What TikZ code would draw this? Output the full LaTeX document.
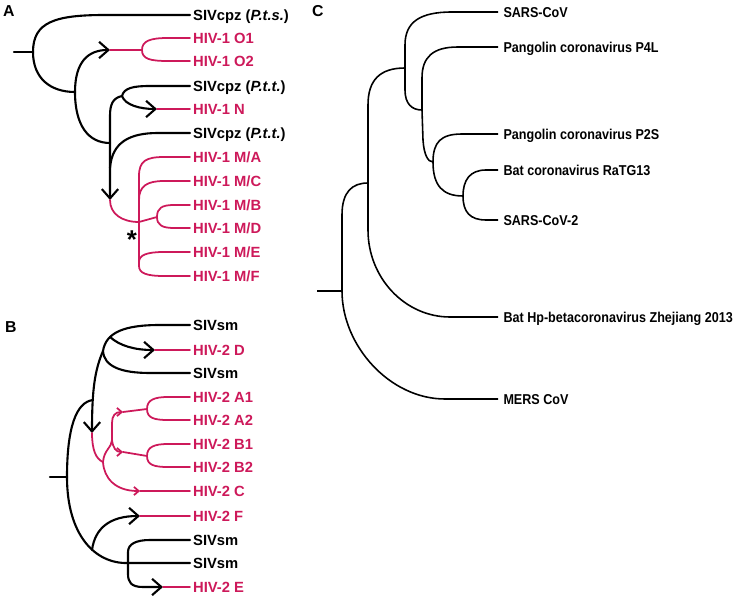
\documentclass[tikz,border=0pt]{standalone}
\usepackage{fontspec}
\setmainfont{Liberation Sans}
\newfontfamily\narrowsans[FakeStretch=0.88]{Liberation Sans}
\usetikzlibrary{arrows.meta}
\usetikzlibrary{positioning}
\definecolor{hivred}{RGB}{205,25,90}
\tikzset{
  br/.style={line width=1.8pt, line cap=round},
  hbr/.style={hivred, line width=1.5pt, line cap=round},
  cbr/.style={line width=1.35pt},
  bigtip/.style={-{Straight Barb[length=8pt,width=14pt]}},
  smalltip/.style={-{Straight Barb[length=4pt,width=7pt]}},
  leaf/.style={anchor=west, inner xsep=2.5pt, inner ysep=0pt, text height=9pt, text depth=0pt, font=\fontsize{12.6}{14}\selectfont\bfseries},
  hleaf/.style={leaf, text=hivred},
  cleaf/.style={leaf, inner xsep=4.5pt, font=\fontsize{12.2}{14}\selectfont\narrowsans\bfseries},
  panel/.style={anchor=base west, inner sep=0pt, font=\fontsize{13.5}{15}\selectfont\bfseries}
}
\begin{document}
\begin{tikzpicture}[x=0.03cm,y=-0.03cm]
\useasboundingbox (0,0) rectangle (733,599);
% A
\node[panel] (pA) at (3,16.5) {A};
\node[leaf] (pts) at (190,15) {SIVcpz (\textit{P.t.s.})};
\node[hleaf] (o1) at (190,38) {HIV-1 O1};
\node[hleaf] (o2) at (190,61) {HIV-1 O2};
\node[leaf] (ptt1) at (190,86) {SIVcpz (\textit{P.t.t.})};
\node[hleaf] (hivN) at (190,109) {HIV-1 N};
\node[leaf] (ptt2) at (190,133) {SIVcpz (\textit{P.t.t.})};
\node[hleaf] (mA) at (190,157) {HIV-1 M/A};
\node[hleaf] (mC) at (190,181) {HIV-1 M/C};
\node[hleaf] (mB) at (190,205) {HIV-1 M/B};
\node[hleaf] (mD) at (190,228) {HIV-1 M/D};
\node[hleaf] (mE) at (190,252) {HIV-1 M/E};
\node[hleaf] (mF) at (190,276) {HIV-1 M/F};
\coordinate (aS) at (14,52);
\coordinate (aR) at (33,52);
\coordinate (a1) at (75,92);
\coordinate (aTO) at (110,50);
\coordinate (aO) at (142,50);
\coordinate (aN1) at (122,96);
\coordinate (aTN) at (157,109);
\coordinate (a2) at (110,143);
\coordinate (a3) at (110,168);
\coordinate (aTM) at (110,200);
\coordinate (aM) at (139,222);
\coordinate (aMc) at (139,200);
\coordinate (aMe) at (139,262);
\coordinate (aBD) at (157,217);
\draw[br] (aS) -- (aR);
\draw[br] (aR) .. controls (33,22) and (55,15) .. (105,15) -- (pts.west);
\draw[br] (aR) .. controls (33,78) and (50,92) .. (a1);
\draw[br,bigtip] (a1) .. controls (75,62) and (88,50) .. (aTO);
\draw[hbr] (aTO) -- (aO);
\draw[hbr] (aO) .. controls (142,41) and (150,38) .. (168,38) -- (o1.west);
\draw[hbr] (aO) .. controls (142,59) and (150,61) .. (168,61) -- (o2.west);
\draw[br] (a1) .. controls (75,125) and (88,143) .. (a2);
\draw[br,bigtip] (aN1) .. controls (113,98) and (110,104) .. (110,116) -- (aTM);
\draw[br] (aN1) .. controls (124,88) and (133,86) .. (150,86) -- (ptt1.west);
\draw[br,bigtip] (aN1) .. controls (125,105) and (140,109) .. (aTN);
\draw[hbr] (aTN) -- (hivN.west);
\draw[br] (a3) .. controls (112,142) and (130,133) .. (158,133) -- (ptt2.west);
\draw[hbr] (aTM) .. controls (110,214) and (122,222) .. (aM);
\draw[hbr] (aM) -- (139,176) .. controls (139,161) and (146,157) .. (164,157) -- (mA.west);
\draw[hbr] (aMc) .. controls (139,186) and (147,181) .. (164,181) -- (mC.west);
\draw[hbr] (aM) -- (aBD);
\draw[hbr] (aBD) .. controls (157,208) and (162,205) .. (174,205) -- (mB.west);
\draw[hbr] (aBD) .. controls (157,225) and (162,228) .. (174,228) -- (mD.west);
\draw[hbr] (aMe) .. controls (139,255) and (147,252) .. (164,252) -- (mE.west);
\draw[hbr] (aM) -- (139,266) .. controls (139,273) and (146,276) .. (164,276) -- (mF.west);
\node[anchor=base, inner sep=0pt, font=\fontsize{22}{22}\selectfont\bfseries] (ast) at (132,249) {*};
% B
\node[panel] (pB) at (5,332) {B};
\node[leaf] (sm1) at (190,325) {SIVsm};
\node[hleaf] (h2D) at (190,350) {HIV-2 D};
\node[leaf] (sm2) at (190,373) {SIVsm};
\node[hleaf] (h2A1) at (190,397) {HIV-2 A1};
\node[hleaf] (h2A2) at (190,420) {HIV-2 A2};
\node[hleaf] (h2B1) at (190,444) {HIV-2 B1};
\node[hleaf] (h2B2) at (190,467) {HIV-2 B2};
\node[hleaf] (h2C) at (190,491) {HIV-2 C};
\node[hleaf] (h2F) at (190,516) {HIV-2 F};
\node[leaf] (sm3) at (190,540) {SIVsm};
\node[leaf] (sm4) at (190,563) {SIVsm};
\node[hleaf] (h2E) at (190,587) {HIV-2 E};
\coordinate (bS0) at (50,477);
\coordinate (bR) at (67,477);
\coordinate (bJ) at (93,400);
\coordinate (bT) at (103,351);
\coordinate (bQ) at (110,337);
\coordinate (bXD) at (155,350);
\coordinate (bX) at (92,433);
\coordinate (bRd) at (103,462);
\coordinate (bV1) at (112,440);
\coordinate (bV2) at (112,423);
\coordinate (bXA) at (123,412);
\coordinate (bA) at (147,409);
\coordinate (bXB) at (123,452);
\coordinate (bB) at (147,456);
\coordinate (bXC) at (140,491);
\coordinate (bF) at (92,550);
\coordinate (bXF) at (140,516);
\coordinate (bS) at (128,563);
\coordinate (bXE) at (163,587);
\draw[br] (bS0) -- (bR);
\draw[br] (bR) .. controls (67,428) and (76,402) .. (bJ);
\draw[br,bigtip] (bT) .. controls (95,370) and (92,388) .. (bX);
\draw[br] (bT) .. controls (106,332) and (125,325) .. (160,325) -- (sm1.west);
\draw[br,bigtip] (bQ) .. controls (120,346) and (135,350) .. (bXD);
\draw[hbr] (bXD) -- (h2D.west);
\draw[br] (bT) .. controls (104,366) and (120,373) .. (150,373) -- (sm2.west);
\draw[hbr] (bX) .. controls (92,450) and (96,459) .. (bRd);
\draw[hbr] (bRd) .. controls (104,450) and (112,447) .. (bV1) -- (bV2);
\draw[hbr,smalltip] (bV2) .. controls (112,416) and (115,412) .. (bXA);
\draw[hbr] (bXA) -- (bA);
\draw[hbr] (bA) .. controls (147,400) and (154,397) .. (168,397) -- (h2A1.west);
\draw[hbr] (bA) .. controls (147,418) and (154,420) .. (168,420) -- (h2A2.west);
\draw[hbr,smalltip] (bV1) .. controls (113,448) and (116,452) .. (bXB);
\draw[hbr] (bXB) -- (bB);
\draw[hbr] (bB) .. controls (147,447) and (154,444) .. (168,444) -- (h2B1.west);
\draw[hbr] (bB) .. controls (147,465) and (154,467) .. (168,467) -- (h2B2.west);
\draw[hbr,smalltip] (bRd) .. controls (104,478) and (115,491) .. (bXC);
\draw[hbr] (bXC) -- (h2C.west);
\draw[br] (bR) .. controls (67,535) and (95,564) .. (bS) -- (sm4.west);
\draw[br,bigtip] (bF) .. controls (95,528) and (110,516) .. (bXF);
\draw[hbr] (bXF) -- (h2F.west);
\draw[br] (bS) -- ++(0,-11) .. controls +(0,-8) and +(-14,0) .. (150,540) -- (sm3.west);
\draw[br,bigtip] (bS) -- ++(0,11) .. controls +(0,8) and +(-12,0) .. (143,587) -- (bXE);
\draw[hbr] (bXE) -- (h2E.west);
% C
\node[panel] (pC) at (312,17) {C};
\node[cleaf] (sars) at (498,12) {SARS-CoV};
\node[cleaf] (p4l) at (498,47) {Pangolin coronavirus P4L};
\node[cleaf] (p2s) at (498,134) {Pangolin coronavirus P2S};
\node[cleaf] (ratg) at (498,170) {Bat coronavirus RaTG13};
\node[cleaf] (sars2) at (498,220) {SARS-CoV-2};
\node[cleaf] (hku) at (498,317) {Bat Hp-betacoronavirus Zhejiang 2013};
\node[cleaf] (mers) at (498,399) {MERS CoV};
\coordinate (cS0) at (317,291);
\coordinate (cR) at (342,291);
\coordinate (c1) at (368,183);
\coordinate (c2) at (405,68);
\coordinate (c3) at (422,110);
\coordinate (c4) at (433,162);
\coordinate (c5) at (463,196);
\draw[cbr] (cS0) -- (cR);
\draw[cbr] (cR) -- (342,215) .. controls (342,192) and (352,183) .. (c1);
\draw[cbr] (cR) .. controls (342,346) and (390,399) .. (445,399) -- (mers.west);
\draw[cbr] (c1) -- (368,105) .. controls (368,80) and (380,68) .. (c2);
\draw[cbr] (c1) -- (368,230) .. controls (368,278) and (405,317) .. (450,317) -- (hku.west);
\draw[cbr] (c2) -- (405,45) .. controls (405,22) and (420,12) .. (452,12) -- (sars.west);
\draw[cbr] (c2) -- (405,90) .. controls (405,104) and (412,110) .. (c3);
\draw[cbr] (c3) -- (422,78) .. controls (422,57) and (433,47) .. (458,47) -- (p4l.west);
\draw[cbr] (c3) -- (423,140) .. controls (424,155) and (428,162) .. (c4);
\draw[cbr] (c4) .. controls (433,142) and (441,134) .. (462,134) -- (p2s.west);
\draw[cbr] (c4) .. controls (433,186) and (443,196) .. (c5);
\draw[cbr] (c5) .. controls (463,180) and (470,170) .. (486,170) -- (ratg.west);
\draw[cbr] (c5) .. controls (463,212) and (470,220) .. (486,220) -- (sars2.west);
\end{tikzpicture}
\end{document}
